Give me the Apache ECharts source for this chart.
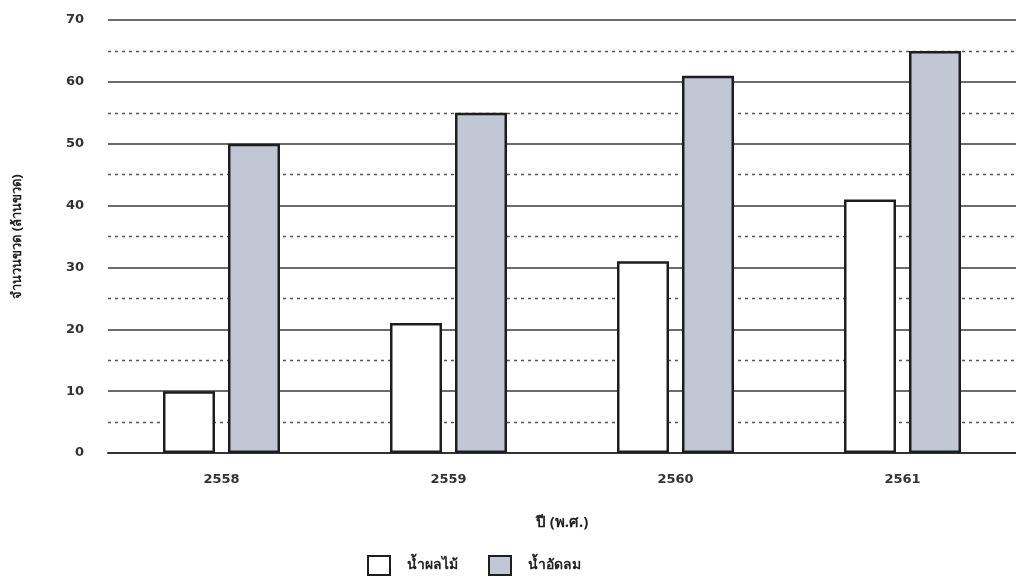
<!DOCTYPE html>
<html>
<head>
<meta charset="utf-8">
<script src="https://cdn.jsdelivr.net/npm/echarts@6/dist/echarts.min.js"></script>
<style>
html,body{margin:0;padding:0;background:#fff;}
#chart{width:1016px;height:583px;}
</style>
</head>
<body>
<div id="chart"></div>
<script>
const categories = ['2558', '2559', '2560', '2561'];
const juice = [10, 21, 31, 41];
const soda = [50, 55, 61, 65];
const seriesNames = ['น้ำผลไม้', 'น้ำอัดลม'];
const yAxisName = 'จำนวนขวด (ล้านขวด)';
const xAxisName = 'ปี (พ.ศ.)';

const FONT = 'Noto Sans, DejaVu Sans, sans-serif';
const NUMFONT = 'DejaVu Sans, sans-serif';
const chart = echarts.init(document.getElementById('chart'));
chart.setOption({
  backgroundColor: '#fff',
  animation: false,
  textStyle: { fontFamily: FONT },
  grid: { left: 108, right: 0, top: 20, bottom: 130, containLabel: false },
  legend: {
    bottom: 2,
    left: 362,
    icon: 'rect',
    itemWidth: 22,
    itemHeight: 19,
    itemGap: 30,
    textStyle: { fontSize: 14, color: '#222', fontWeight: 'bold', padding: [0, 0, 0, 12] },
    data: seriesNames
  },
  xAxis: {
    type: 'category',
    data: categories,
    name: xAxisName,
    nameLocation: 'middle',
    nameGap: 62,
    nameTextStyle: { fontSize: 15, color: '#222', fontWeight: 'bold' },
    axisLine: { lineStyle: { color: '#333', width: 2 } },
    axisTick: { show: false },
    axisLabel: { fontSize: 13, fontFamily: NUMFONT, color: '#333', fontWeight: 'bold', margin: 20 }
  },
  yAxis: {
    type: 'value',
    min: 0,
    max: 70,
    interval: 10,
    name: yAxisName,
    nameLocation: 'middle',
    nameGap: 84,
    nameRotate: 90,
    nameTextStyle: { fontSize: 13, color: '#222', fontWeight: 'bold' },
    axisLine: { show: false },
    axisTick: { show: false },
    axisLabel: { fontSize: 13, fontFamily: NUMFONT, color: '#333', fontWeight: 'bold', margin: 24 },
    splitLine: { lineStyle: { color: '#3a3a3a', width: 1.6 } },
    minorTick: { show: false, splitNumber: 2 },
    minorSplitLine: { show: true, lineStyle: { color: '#555', width: 1.3, type: [3, 4] } }
  },
  series: [
    {
      name: seriesNames[0],
      type: 'bar',
      data: juice,
      barWidth: 52,
      barGap: '25%',
      itemStyle: { color: '#ffffff', borderColor: '#1e1e1e', borderWidth: 2.5 }
    },
    {
      name: seriesNames[1],
      type: 'bar',
      data: soda,
      barWidth: 52,
      itemStyle: { color: '#c1c7d5', borderColor: '#1e1e1e', borderWidth: 2.5 }
    }
  ]
});
</script>
</body>
</html>
